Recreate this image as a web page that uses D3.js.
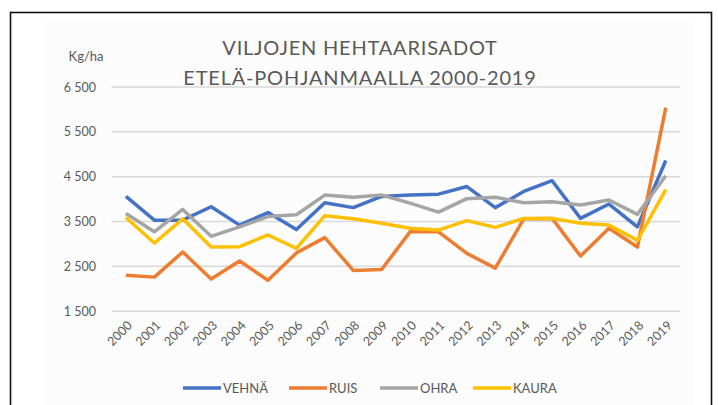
<!DOCTYPE html>
<html><head><meta charset="utf-8">
<script src="https://cdn.jsdelivr.net/npm/d3@7"></script>
<style>
html,body{margin:0;padding:0;background:#fff;}
svg{display:block;}
text{font-family:Lato,"Open Sans",sans-serif;fill:#595959;}
</style></head>
<body>
<script>
const years = ["2000","2001","2002","2003","2004","2005","2006","2007","2008","2009","2010","2011","2012","2013","2014","2015","2016","2017","2018","2019"];
const vehna = [4060,3530,3530,3830,3420,3700,3320,3920,3810,4060,4090,4110,4280,3810,4170,4410,3570,3890,3380,4860];
const ruis  = [2300,2260,2820,2220,2620,2190,2800,3140,2410,2430,3270,3270,2790,2460,3560,3570,2730,3350,2930,6040];
const ohra  = [3680,3270,3770,3170,3380,3610,3650,4090,4040,4090,3910,3710,4010,4040,3920,3940,3870,3980,3660,4520];
const kaura = [3590,3020,3560,2930,2940,3200,2900,3630,3560,3460,3350,3310,3520,3370,3570,3570,3460,3420,3080,4210];
const seriesNames = ["VEHNÄ","RUIS","OHRA","KAURA"];
const seriesColors = ["#4472C4","#ED7D31","#A5A5A5","#FFC000"];
const yTicks = [1500,2500,3500,4500,5500,6500];
const titleLines = ["VILJOJEN  HEHTAARISADOT","ETELÄ-POHJANMAALLA 2000-2019"];
const unitLabel = "Kg/ha";

(function(){
const W = 718, H = 405;
const svg = d3.select("body").append("svg").attr("width", W).attr("height", H);

// frame
svg.append("rect").attr("x",10.5).attr("y",12.5).attr("width",701).attr("height",420)
  .attr("fill","#fff").attr("stroke","#111").attr("stroke-width",1.6);
svg.append("rect").attr("x",46).attr("y",20).attr("width",648).attr("height",390)
  .attr("fill","#fcfcfc");

const pLeft = 111.7, pRight = 680, pTop = 87, pBottom = 311.2;
const x = d3.scaleBand().domain(years).range([pLeft, pRight]);
const y = d3.scaleLinear().domain([1500, 6500]).range([pBottom, pTop]);

// grid
svg.append("g").selectAll("line").data(yTicks).join("line")
  .attr("x1", pLeft).attr("x2", pRight)
  .attr("y1", d => y(d)).attr("y2", d => y(d))
  .attr("stroke", "#d9d9d9").attr("stroke-width", 1.5);

// y axis labels
const fmt = d => d3.format(",")(d).replace(",", " ");
const yAxis = d3.axisLeft(y).tickValues(yTicks).tickFormat(fmt).tickSize(0).tickPadding(0);
const gy = svg.append("g").attr("transform", `translate(96,0)`).call(yAxis);
gy.select(".domain").remove();
gy.selectAll("text").style("font-family","Lato,'Open Sans',sans-serif").style("font-size","12.5px").attr("fill","#595959");

svg.append("text").attr("x", 86).attr("y", 61).attr("text-anchor","middle")
  .style("font-size","13px").text(unitLabel);

// x axis labels
const xAxis = d3.axisBottom(x).tickSize(0).tickPadding(0);
const gx = svg.append("g").attr("transform", `translate(0,${pBottom})`).call(xAxis);
gx.select(".domain").remove();
gx.selectAll("text")
  .style("font-family","Lato,'Open Sans',sans-serif").style("font-size","12.5px").attr("fill","#595959")
  .attr("text-anchor","end").attr("dy",0)
  .attr("transform","translate(7,15) rotate(-45)");

// title
svg.selectAll("text.title").data(titleLines).join("text").attr("class","title")
  .attr("x", 360).attr("y", (d,i)=> 55 + i*30)
  .attr("text-anchor","middle").style("font-size","20px").style("font-weight","400")
  .style("letter-spacing","0.8px")
  .attr("fill","#5f5f5f").text(d=>d);

// lines
const data = [vehna, ruis, ohra, kaura];
const line = d3.line().x((d,i)=> x(years[i]) + x.bandwidth()/2).y(d => y(d));
svg.append("g").selectAll("path").data(data).join("path")
  .attr("d", line).attr("fill","none")
  .attr("stroke",(d,i)=>seriesColors[i]).attr("stroke-width",3.5)
  .attr("stroke-linejoin","round");

// legend
const legX = [183, 289, 380, 473];
const lg = svg.append("g").selectAll("g").data(seriesNames).join("g")
  .attr("transform",(d,i)=>`translate(${legX[i]},388)`);
lg.append("line").attr("x1",0).attr("x2",38).attr("y1",0).attr("y2",0)
  .attr("stroke",(d,i)=>seriesColors[i]).attr("stroke-width",3.5);
lg.append("text").attr("x",40).attr("y",4.5).style("font-size","13px").text(d=>d);
})();
</script>
</body></html>
